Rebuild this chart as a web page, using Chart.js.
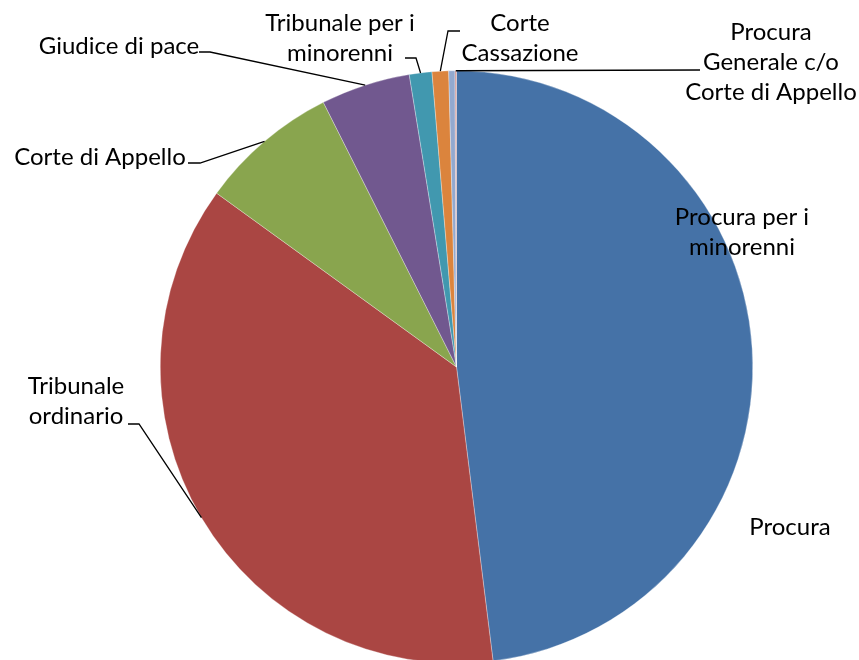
<!DOCTYPE html>
<html>
<head>
<meta charset="utf-8">
<script src="https://cdn.jsdelivr.net/npm/chart.js@4.4.1/dist/chart.umd.min.js"></script>
<style>
  html, body { margin: 0; padding: 0; background: #fff; overflow: hidden; }
  #wrap { width: 859px; height: 660px; overflow: hidden; }
</style>
</head>
<body>
<div id="wrap"><canvas id="pieChart" width="859" height="664"></canvas></div>
<script>
// slice order as drawn clockwise from 12 o'clock
const categories = [
  "Procura",
  "Tribunale ordinario",
  "Corte di Appello",
  "Giudice di pace",
  "Tribunale per i minorenni",
  "Corte Cassazione",
  "Procura per i minorenni",
  "Procura Generale c/o Corte di Appello"
];
const shares = [48.03, 36.95, 7.60, 4.87, 1.23, 0.90, 0.34, 0.08];
const colors = ["#4572A7", "#AA4643", "#89A54E", "#71588F", "#4198AF", "#DB843D", "#93A9CF", "#D19392"];

// label boxes: text lines, centre x, first line y, and the elbow of the leader line (null = no leader)
const labelPlaces = [
  { lines: ["Procura"], x: 790, y: 527, elbow: null },
  { lines: ["Tribunale", "ordinario"], x: 76, y: 386, elbow: [[128, 424], [139, 424]] },
  { lines: ["Corte di Appello"], x: 100, y: 157, elbow: [[188, 163], [200, 163]] },
  { lines: ["Giudice di pace"], x: 119, y: 46, elbow: [[199, 52], [210, 52]] },
  { lines: ["Tribunale per i", "minorenni"], x: 340, y: 23, elbow: [[405, 58], [416, 58]] },
  { lines: ["Corte", "Cassazione"], x: 520, y: 23, elbow: [[460, 31], [448, 31]] },
  { lines: ["Procura per i", "minorenni"], x: 742, y: 217, elbow: null },
  { lines: ["Procura", "Generale c/o", "Corte di Appello"], x: 771, y: 32, elbow: [[700, 70]] }
];

const pieLabels = {
  id: 'pieLabels',
  afterDatasetsDraw(chart) {
    const ctx = chart.ctx;
    const arcs = chart.getDatasetMeta(0).data;
    ctx.save();
    ctx.font = '24px Lato, "Open Sans", sans-serif';
    ctx.fillStyle = '#000';
    ctx.textAlign = 'center';
    ctx.textBaseline = 'middle';
    labelPlaces.forEach((lab, i) => {
      lab.lines.forEach((t, k) => ctx.fillText(t, lab.x, lab.y + k * 30));
      if (lab.elbow) {
        const a = arcs[i];
        const mid = (a.startAngle + a.endAngle) / 2;
        const ex = a.x + Math.cos(mid) * a.outerRadius;
        const ey = a.y + Math.sin(mid) * a.outerRadius;
        ctx.beginPath();
        ctx.strokeStyle = '#000';
        ctx.lineWidth = 1.3;
        ctx.moveTo(lab.elbow[0][0], lab.elbow[0][1]);
        for (let k = 1; k < lab.elbow.length; k++) ctx.lineTo(lab.elbow[k][0], lab.elbow[k][1]);
        ctx.lineTo(ex, ey);
        ctx.stroke();
      }
    });
    ctx.restore();
  }
};

new Chart(document.getElementById("pieChart"), {
  type: 'pie',
  data: {
    labels: categories,
    datasets: [{
      data: shares,
      backgroundColor: colors,
      borderColor: 'rgba(255,255,255,0.6)',
      borderWidth: 0.5
    }]
  },
  options: {
    responsive: false,
    animation: false,
    layout: { padding: { top: 70, left: 160, right: 106, bottom: 0 } },
    plugins: {
      legend: { display: false },
      tooltip: { enabled: false }
    }
  },
  plugins: [pieLabels]
});
</script>
</body>
</html>
